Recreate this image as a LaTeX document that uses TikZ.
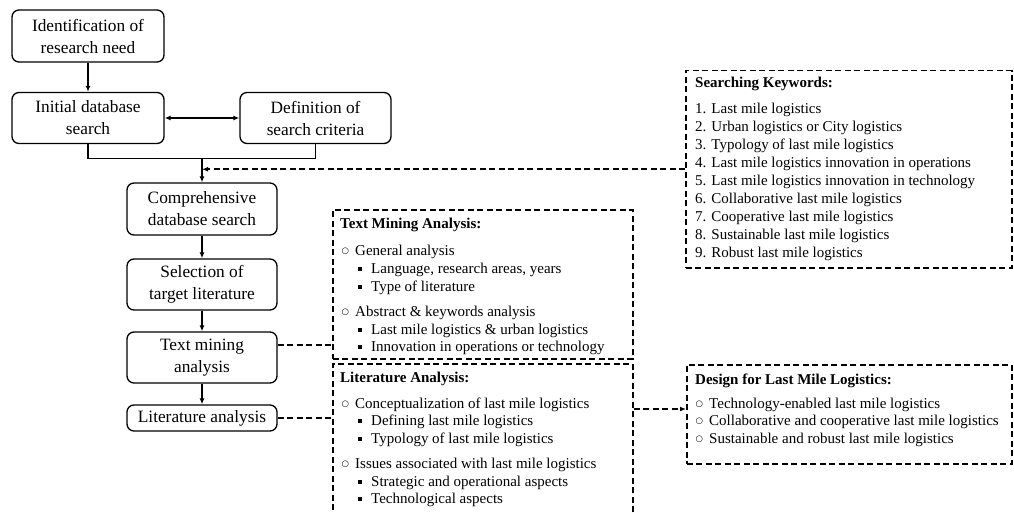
\documentclass[tikz,border=0pt]{standalone}
\usepackage{fontspec}
\setmainfont{Liberation Serif}
\newfontfamily\dejavu{DejaVu Sans}
\usetikzlibrary{arrows.meta,calc}
\newcommand\lvA{\makebox[14pt][l]{\hspace{0.5pt}\raisebox{1.8pt}{\dejavu\fontsize{8.5}{8.5}\selectfont ○}}}
\newcommand\lvB{\makebox[14pt][l]{\hspace{0.5pt}\rule[2.2pt]{4.2pt}{4.2pt}}}
\begin{document}
\begin{tikzpicture}[x=1pt,y=-1pt,
 mainbox/.style={draw, rounded corners=7pt, line width=1.3pt, align=center, inner sep=0pt,
   font=\fontsize{17.3}{22}\selectfont},
 dbox/.style={draw, dash pattern=on 6pt off 3.5pt, line width=1.5pt, inner sep=0pt, anchor=north west},
 flow/.style={line width=1.3pt, -{Latex[length=6pt,width=5pt]}},
 dline/.style={line width=1.5pt, dash pattern=on 6pt off 3.5pt},
 darrow/.style={dline, -{Latex[length=6pt,width=5pt]}},
 lt/.style={anchor=base west, inner sep=0pt, font=\fontsize{15}{18}\selectfont},
 ttl/.style={anchor=base west, inner sep=0pt, font=\fontsize{15}{18}\selectfont\bfseries},
]
\clip (0,0) rectangle (1014,513);
\fill[white] (0,0) rectangle (1014,513);

% main flow boxes
\node[mainbox, minimum width=152pt, minimum height=52pt] (B1) at (88,36) {Identification of\\research need};
\node[mainbox, minimum width=152pt, minimum height=51pt] (B2) at (88,118) {Initial database\\search};
\node[mainbox, minimum width=151pt, minimum height=51pt] (B3) at (315.5,118) {Definition of\\search criteria};
\node[mainbox, minimum width=150pt, minimum height=52pt] (B4) at (202,209) {Comprehensive\\database search};
\node[mainbox, minimum width=150pt, minimum height=51pt] (B5) at (202,284.5) {Selection of\\target literature};
\node[mainbox, minimum width=150pt, minimum height=51pt] (B6) at (202,357.5) {Text mining\\analysis};
\node[mainbox, minimum width=150pt, minimum height=26pt] (B7) at (202,418) {Literature analysis};

% dashed boxes
\node[dbox, minimum width=326pt, minimum height=197pt] (KW) at (685,70) {};
\node[dbox, minimum width=300pt, minimum height=149pt] (TM) at (332,209) {};
\node[dbox, minimum width=300pt, minimum height=200pt] (LA) at (332,363) {};
\node[dbox, minimum width=325pt, minimum height=99pt] (DS) at (686,364) {};

% connectors
\draw[flow] (B1) -- (B2);
\draw[line width=1.3pt, {Latex[length=6pt,width=5pt]}-{Latex[length=6pt,width=5pt]}] (B2) -- (B3);
\draw[line width=1.3pt] (B2.south) -- ++(0,14.5) -| (B3.south);
\coordinate (M) at (B4.north |- 0,158);
\draw[flow] (M) -- (B4);
\draw[darrow] (KW.west) -- (KW.west -| B4.north);
\draw[flow] (B4) -- (B5);
\draw[flow] (B5) -- (B6);
\draw[flow] (B6) -- (B7);
\draw[dline] (B6.east |- 0,345) -- (TM.west |- 0,345);
\draw[dline] (B7.east) -- (B7.east -| LA.west);
\draw[darrow] (LA.east |- 0,409) -- (DS.west |- 0,409);

% Searching keywords
\node[ttl] (kw0) at (695,88) {Searching Keywords:};
\node[lt] (kw1) at (695,114) {1. Last mile logistics};
\node[lt] (kw2) at (695,131.9) {2. Urban logistics or City logistics};
\node[lt] (kw3) at (695,149.8) {3. Typology of last mile logistics};
\node[lt] (kw4) at (695,167.7) {4. Last mile logistics innovation in operations};
\node[lt] (kw5) at (695,185.6) {5. Last mile logistics innovation in technology};
\node[lt] (kw6) at (695,203.5) {6. Collaborative last mile logistics};
\node[lt] (kw7) at (695,221.4) {7. Cooperative last mile logistics};
\node[lt] (kw8) at (695,239.3) {8. Sustainable last mile logistics};
\node[lt] (kw9) at (695,257.2) {9. Robust last mile logistics};

% Text mining analysis
\node[ttl] (tm0) at (340,229) {Text Mining Analysis:};
\node[lt] (tm1) at (341,255) {\lvA General analysis};
\node[lt] (tm2) at (357,273) {\lvB Language, research areas, years};
\node[lt] (tm3) at (357,291) {\lvB Type of literature};
\node[lt] (tm4) at (341,316) {\lvA Abstract \& keywords analysis};
\node[lt] (tm5) at (357,334) {\lvB Last mile logistics \& urban logistics};
\node[lt] (tm6) at (357,351) {\lvB Innovation in operations or technology};

% Literature analysis
\node[ttl] (la0) at (340,382) {Literature Analysis:};
\node[lt] (la1) at (341,408) {\lvA Conceptualization of last mile logistics};
\node[lt] (la2) at (357,425.5) {\lvB Defining last mile logistics};
\node[lt] (la3) at (357,443) {\lvB Typology of last mile logistics};
\node[lt] (la4) at (341,468) {\lvA Issues associated with last mile logistics};
\node[lt] (la5) at (357,486) {\lvB Strategic and operational aspects};
\node[lt] (la6) at (357,503) {\lvB Technological aspects};

% Design
\node[ttl] (ds0) at (695,384) {Design for Last Mile Logistics:};
\node[lt] (ds1) at (695,408) {\lvA Technology-enabled last mile logistics};
\node[lt] (ds2) at (695,425.5) {\lvA Collaborative and cooperative last mile logistics};
\node[lt] (ds3) at (695,443) {\lvA Sustainable and robust last mile logistics};
\end{tikzpicture}
\end{document}
